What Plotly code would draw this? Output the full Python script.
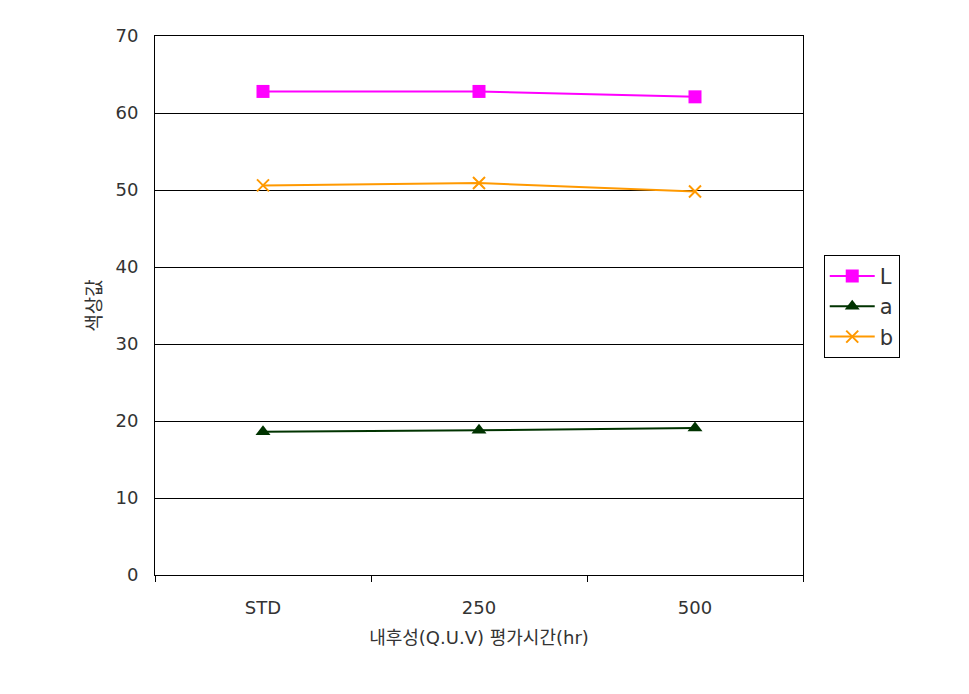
import plotly.graph_objects as go

categories = ["STD", "250", "500"]
L_vals = [62.8, 62.8, 62.1]
a_vals = [18.6, 18.8, 19.1]
b_vals = [50.6, 50.9, 49.8]

font_family = "DejaVu Sans, Noto Sans CJK KR, sans-serif"
txt = "#333333"

fig = go.Figure()
fig.add_trace(go.Scatter(x=categories, y=L_vals, name="L", mode="lines+markers",
                         line=dict(color="#FF00FF", width=2),
                         marker=dict(symbol="square", size=13, color="#FF00FF")))
fig.add_trace(go.Scatter(x=categories, y=a_vals, name="a", mode="lines+markers",
                         line=dict(color="#003300", width=2),
                         marker=dict(symbol="triangle-up", size=13, color="#003300")))
fig.add_trace(go.Scatter(x=categories, y=b_vals, name="b", mode="lines+markers",
                         line=dict(color="#FF9900", width=2),
                         marker=dict(symbol="x-thin", size=12, color="#FF9900",
                                     line=dict(color="#FF9900", width=2))))

fig.update_layout(
    width=969, height=694,
    margin=dict(l=155, r=166, t=36, b=119),
    paper_bgcolor="white", plot_bgcolor="white",
    font=dict(family=font_family, size=18, color=txt),
    showlegend=True,
    legend=dict(x=1.032, y=0.594, xanchor="left", yanchor="top",
                bordercolor="black", borderwidth=1, bgcolor="white",
                itemwidth=45, font=dict(size=21, color=txt), tracegroupgap=0),
    xaxis=dict(type="category", range=[-0.5, 2.5], showline=True, linecolor="black",
               linewidth=1, mirror=True, ticks="outside", tickson="boundaries",
               ticklen=6, tickcolor="black", showgrid=False, ticklabelstandoff=16,
               tickfont=dict(size=18, color=txt),
               title=dict(text="내후성(Q.U.V) 평가시간(hr)", standoff=14,
                          font=dict(size=18, color=txt))),
    yaxis=dict(range=[0, 70], dtick=10, showline=True, linecolor="black", linewidth=1,
               mirror=True, showgrid=True, gridcolor="black", gridwidth=1,
               ticks="", zeroline=False, ticklabelstandoff=12,
               tickfont=dict(size=18, color=txt),
               title=dict(text="색상값", standoff=8, font=dict(size=19, color=txt))),
)

fig.write_html("out.html")
